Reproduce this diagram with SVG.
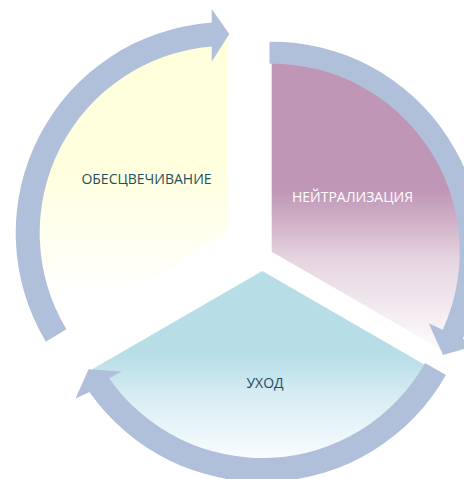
<svg xmlns="http://www.w3.org/2000/svg" width="464" height="479" viewBox="0 0 464 479">
  <style>
    .lbl { font-family: "Open Sans", "Liberation Sans", sans-serif; font-size: 14px; text-anchor: middle; }
    .dark { fill: #1F4E5E; }
    .light { fill: #FFFFFF; }
    .arrow { fill: #B0C0DB; stroke: none; }
  </style>
  <defs>
    <linearGradient id="gYellow" gradientUnits="userSpaceOnUse" x1="0" y1="37" x2="0" y2="331">
      <stop offset="0" stop-color="#FFFFDC"/>
      <stop offset="0.45" stop-color="#FFFFDE"/>
      <stop offset="0.7" stop-color="#FFFFF2"/>
      <stop offset="0.88" stop-color="#FFFFFF"/>
    </linearGradient>
    <linearGradient id="gMagenta" gradientUnits="userSpaceOnUse" x1="0" y1="55.7" x2="0" y2="349.7">
      <stop offset="0" stop-color="#BF96B5"/>
      <stop offset="0.456" stop-color="#BF96B5"/>
      <stop offset="0.54" stop-color="#CCABC3"/>
      <stop offset="0.695" stop-color="#E6D5E1"/>
      <stop offset="0.97" stop-color="#FBF8FA"/>
    </linearGradient>
    <linearGradient id="gCyan" gradientUnits="userSpaceOnUse" x1="0" y1="271" x2="0" y2="467">
      <stop offset="0" stop-color="#B7DDE7"/>
      <stop offset="0.43" stop-color="#B7DDE7"/>
      <stop offset="0.66" stop-color="#DAEEF4"/>
      <stop offset="0.94" stop-color="#F7FBFD"/>
      <stop offset="1" stop-color="#FDFEFF"/>
    </linearGradient>
  </defs>

  <g id="node-decolor">
    <path d="M227.3 233 L57.56 331 A196 196 0 0 1 227.3 37 Z" fill="url(#gYellow)"/>
    <text class="lbl dark" x="146.5" y="184">ОБЕСЦВЕЧИВАНИЕ</text>
  </g>

  <g id="node-neutralize">
    <path d="M271.7 251.7 L271.7 55.7 A196 196 0 0 1 441.44 349.7 Z" fill="url(#gMagenta)"/>
    <text class="lbl light" x="352.5" y="201.5">НЕЙТРАЛИЗАЦИЯ</text>
  </g>

  <g id="node-care">
    <path d="M262.3 271 L432.04 369 A196 196 0 0 1 92.56 369 Z" fill="url(#gCyan)"/>
    <text class="lbl dark" x="265" y="387.5">УХОД</text>
  </g>

  <g id="connectors">
    <path class="arrow" d="M45.84 341.67 A211 211 0 0 1 211.7 22.53 L211.7 9 L229.3 34.1 L211.7 61.7 L211.7 46.6 A187 187 0 0 0 66.41 329.31 Z"/>
    <path class="arrow" d="M269.5 41.71 A210 210 0 0 1 462.79 338.78 L476.9 345.21 L443 355 L428.67 323.23 L442.77 329.66 A188 188 0 0 0 269.5 63.71 Z"/>
    <path class="arrow" d="M445.95 374.9 A211 211 0 0 1 89.46 392.02 L75.5 398.5 L88.6 369.2 L121.5 371.5 L109.12 378.26 A187 187 0 0 0 425.06 363.08 Z"/>
  </g>
</svg>
